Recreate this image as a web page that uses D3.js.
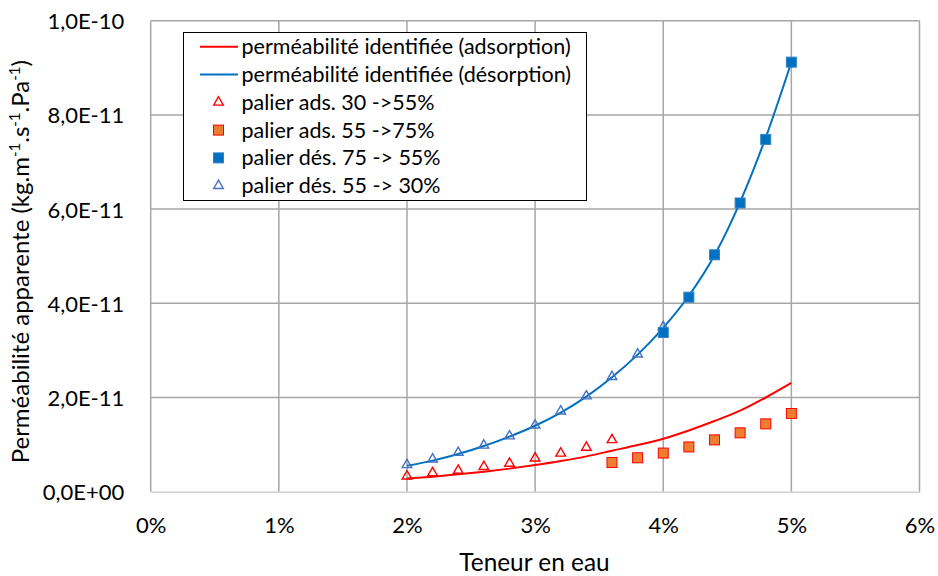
<!DOCTYPE html>
<html>
<head>
<meta charset="utf-8">
<script src="https://cdn.jsdelivr.net/npm/d3@7"></script>
<style>
  html, body { margin: 0; padding: 0; background: #fff; }
  svg text { font-family: Lato, "Open Sans", sans-serif; fill: #000; }
</style>
</head>
<body>
<svg id="chart" width="938" height="576"></svg>
<script>
// Water content (%) and apparent permeability (kg.m-1.s-1.Pa-1)
const curveX = [2.0, 2.2, 2.4, 2.6, 2.8, 3.0, 3.2, 3.4, 3.6, 3.8, 4.0, 4.2, 4.4, 4.6, 4.8, 5.0];
const curveAds = [2.8e-12, 3.2e-12, 3.7e-12, 4.25e-12, 4.9e-12, 5.65e-12, 6.5e-12, 7.5e-12, 8.7e-12, 9.9e-12, 11.25e-12, 13.0e-12, 15.0e-12, 17.2e-12, 20.0e-12, 23.1e-12];
const curveDes = [5.5e-12, 6.6e-12, 8.0e-12, 9.7e-12, 11.7e-12, 14.0e-12, 16.8e-12, 20.2e-12, 24.3e-12, 29.1e-12, 34.8e-12, 41.6e-12, 50.2e-12, 61.5e-12, 75.2e-12, 91.2e-12];

const adsTriX = [2.0, 2.2, 2.4, 2.6, 2.8, 3.0, 3.2, 3.4, 3.6];
const adsTriY = [3.3e-12, 4.0e-12, 4.5e-12, 5.3e-12, 6.0e-12, 7.1e-12, 8.15e-12, 9.4e-12, 11.0e-12];

const adsSqX = [3.6, 3.8, 4.0, 4.2, 4.4, 4.6, 4.8, 5.0];
const adsSqY = [6.2e-12, 7.2e-12, 8.2e-12, 9.5e-12, 11.0e-12, 12.5e-12, 14.4e-12, 16.6e-12];

const desSqX = [4.0, 4.2, 4.4, 4.6, 4.8, 5.0];
const desSqY = [33.8e-12, 41.3e-12, 50.3e-12, 61.3e-12, 74.8e-12, 91.2e-12];

const desTriX = [2.0, 2.2, 2.4, 2.6, 2.8, 3.0, 3.2, 3.4, 3.6, 3.8, 4.0];
const desTriY = [5.7e-12, 6.9e-12, 8.3e-12, 9.85e-12, 11.8e-12, 14.1e-12, 17.1e-12, 20.3e-12, 24.4e-12, 29.2e-12, 35.0e-12];

const xTicks = [0, 1, 2, 3, 4, 5, 6];
const yTicks = [0, 2e-11, 4e-11, 6e-11, 8e-11, 1e-10];

const legendLabels = [
  "perméabilité identifiée (adsorption)",
  "perméabilité identifiée (désorption)",
  "palier ads. 30 ->55%",
  "palier ads. 55 ->75%",
  "palier dés. 75 -> 55%",
  "palier dés. 55 -> 30%"
];

const zip = (xs, ys) => xs.map((x, i) => ({ x, y: ys[i] }));

const svg = d3.select("#chart");
const plot = { left: 150.7, right: 919.5, top: 20.7, bottom: 491.7 };

const x = d3.scaleLinear().domain([0, 6]).range([plot.left, plot.right]);
const y = d3.scaleLinear().domain([0, 1e-10]).range([plot.bottom, plot.top]);

// Excel-style scientific label: 1,0E-10
function sci(v) {
  if (Math.abs(v) < 1e-30) return "0,0E+00";
  let e = Math.floor(Math.log10(Math.abs(v)) + 1e-9);
  let m = v / Math.pow(10, e);
  const ms = m.toFixed(1).replace(".", ",");
  const sign = e < 0 ? "-" : "+";
  return ms + "E" + sign + String(Math.abs(e)).padStart(2, "0");
}

// Gridlines
const grid = svg.append("g");
grid.selectAll("line.v").data(xTicks).join("line")
  .attr("x1", d => x(d)).attr("x2", d => x(d))
  .attr("y1", plot.top).attr("y2", plot.bottom)
  .attr("stroke", "#a6a6a6").attr("stroke-width", 1.5);
grid.selectAll("line.h").data(yTicks.slice(1)).join("line")
  .attr("x1", plot.left).attr("x2", plot.right)
  .attr("y1", d => y(d)).attr("y2", d => y(d))
  .attr("stroke", "#a6a6a6").attr("stroke-width", 1.5);

// X axis (bottom)
const xAxis = d3.axisBottom(x).tickValues(xTicks).tickSize(0).tickPadding(0)
  .tickFormat(d => d + "%");
const gx = svg.append("g").attr("transform", `translate(0,${plot.bottom})`).call(xAxis);
gx.select(".domain").attr("stroke", "#d0d0d0").attr("stroke-width", 1.5);
gx.selectAll("text").attr("font-size", 22).attr("dy", 0).attr("y", 41.5)
  .attr("font-family", "Lato, sans-serif");

// Y axis (left)
const yAxis = d3.axisLeft(y).tickValues(yTicks).tickSize(0).tickPadding(0).tickFormat(sci);
const gy = svg.append("g").attr("transform", `translate(${plot.left},0)`).call(yAxis);
gy.select(".domain").remove();
gy.selectAll("text").attr("font-size", 22).attr("x", -26.4).attr("dy", "0.36em")
  .attr("font-family", "Lato, sans-serif");

// Axis titles
svg.append("text").attr("x", 534.5).attr("y", 571)
  .attr("text-anchor", "middle").attr("font-size", 24.4).text("Teneur en eau");

const yt = svg.append("text")
  .attr("transform", `translate(28.5,261.7) rotate(-90)`)
  .attr("text-anchor", "middle").attr("font-size", 24);
yt.append("tspan").text("Perméabilité apparente (kg.m");
yt.append("tspan").attr("font-size", 15).attr("dy", -9).text("-1");
yt.append("tspan").attr("dy", 9).text(".s");
yt.append("tspan").attr("font-size", 15).attr("dy", -9).text("-1");
yt.append("tspan").attr("dy", 9).text(".Pa");
yt.append("tspan").attr("font-size", 15).attr("dy", -9).text("-1");
yt.append("tspan").attr("dy", 9).text(")");

// Curves
const line = d3.line().x(d => x(d.x)).y(d => y(d.y)).curve(d3.curveMonotoneX);
svg.append("path").datum(zip(curveX, curveAds)).attr("d", line)
  .attr("fill", "none").attr("stroke", "#ff0000").attr("stroke-width", 2);
svg.append("path").datum(zip(curveX, curveDes)).attr("d", line)
  .attr("fill", "none").attr("stroke", "#0070c0").attr("stroke-width", 2);

// Marker styles
const styles = {
  adsTri: { shape: "tri", fill: "#fff", stroke: "#ff0000" },
  adsSq: { shape: "sq", fill: "#ed7d31", stroke: "#ff0000" },
  desSq: { shape: "sq", fill: "#0070c0", stroke: "#2f83c8" },
  desTri: { shape: "tri", fill: "#fff", stroke: "#4472c4" }
};
const triPath = d3.symbol().type(d3.symbolTriangle).size(40)();

function drawMarker(g, st) {
  if (st.shape === "tri") {
    g.append("path").attr("d", triPath).attr("fill", "none")
      .attr("stroke", st.stroke).attr("stroke-width", 1.4);
  } else {
    g.append("rect").attr("x", -5).attr("y", -5).attr("width", 10).attr("height", 10)
      .attr("fill", st.fill).attr("stroke", st.stroke).attr("stroke-width", 1);
  }
}

function drawSeries(data, st) {
  const g = svg.append("g");
  g.selectAll("g").data(data).join("g")
    .attr("transform", d => `translate(${x(d.x)},${y(d.y)})`)
    .each(function () { drawMarker(d3.select(this), st); });
}

drawSeries(zip(adsTriX, adsTriY), styles.adsTri);
drawSeries(zip(adsSqX, adsSqY), styles.adsSq);
drawSeries(zip(desTriX, desTriY), styles.desTri);
drawSeries(zip(desSqX, desSqY), styles.desSq);

// Legend
const lg = svg.append("g");
lg.append("rect").attr("x", 183.5).attr("y", 32.5).attr("width", 403).attr("height", 168)
  .attr("fill", "#fff").attr("stroke", "#000").attr("stroke-width", 1);
const legendKeys = [
  { type: "line", color: "#ff0000" },
  { type: "line", color: "#0070c0" },
  { type: "marker", st: styles.adsTri },
  { type: "marker", st: styles.adsSq },
  { type: "marker", st: styles.desSq },
  { type: "marker", st: styles.desTri }
];
legendLabels.forEach((lab, i) => {
  const cy = 46.7 + i * 27.8;
  const k = legendKeys[i];
  if (k.type === "line") {
    lg.append("line").attr("x1", 200).attr("x2", 238).attr("y1", cy).attr("y2", cy)
      .attr("stroke", k.color).attr("stroke-width", 2);
  } else {
    const g = lg.append("g").attr("transform", `translate(218.5,${cy})`);
    drawMarker(g, k.st);
  }
  lg.append("text").attr("x", 241.5).attr("y", cy).attr("dy", "0.35em")
    .attr("font-size", 21.5).text(lab);
});
</script>
</body>
</html>
